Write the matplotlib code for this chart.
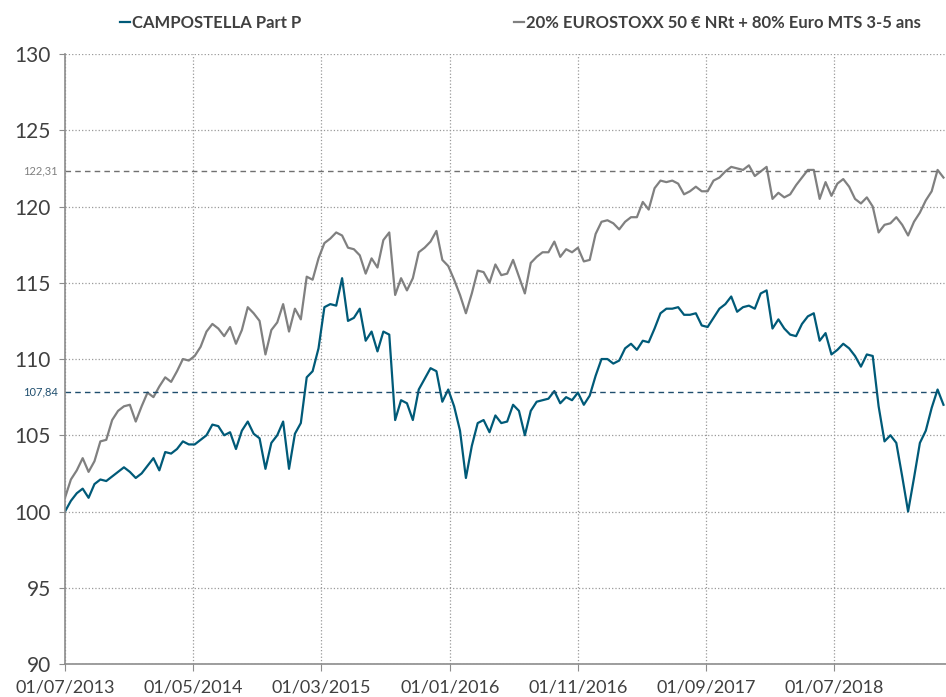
import numpy as np
import pandas as pd
import matplotlib
matplotlib.use('Agg')
import matplotlib.pyplot as plt

plt.rcParams['font.family'] = ['Lato', 'DejaVu Sans']

# valeurs, un point toutes les deux semaines depuis le 01/07/2013
campostella = [
    100.0, 100.7, 101.2, 101.5, 100.9, 101.8, 102.1, 102.0, 102.3, 102.6,
    102.9, 102.6, 102.2, 102.5, 103.0, 103.5, 102.7, 103.9, 103.8, 104.1,
    104.6, 104.4, 104.4, 104.7, 105.0, 105.7, 105.6, 105.0, 105.2, 104.1,
    105.3, 105.9, 105.1, 104.8, 102.8, 104.5, 105.0, 105.9, 102.8, 105.1,
    105.8, 108.8, 109.2, 110.7, 113.4, 113.6, 113.5, 115.3, 112.5, 112.7,
    113.3, 111.2, 111.8, 110.5, 111.8, 111.6, 106.0, 107.3, 107.1, 106.0,
    108.0, 108.7, 109.4, 109.2, 107.2, 108.0, 106.9, 105.3, 102.2, 104.3,
    105.8, 106.0, 105.2, 106.3, 105.8, 105.9, 107.0, 106.6, 105.0, 106.6,
    107.2, 107.3, 107.4, 107.9, 107.1, 107.5, 107.3, 107.8, 107.0, 107.6,
    108.9, 110.0, 110.0, 109.7, 109.9, 110.7, 111.0, 110.6, 111.2, 111.1,
    112.0, 113.0, 113.3, 113.3, 113.4, 112.9, 112.9, 113.0, 112.2, 112.1,
    112.7, 113.3, 113.6, 114.1, 113.1, 113.4, 113.5, 113.3, 114.3, 114.5,
    112.0, 112.6, 112.0, 111.6, 111.5, 112.3, 112.8, 113.0, 111.2, 111.7,
    110.3, 110.6, 111.0, 110.7, 110.2, 109.5, 110.3, 110.2, 106.9, 104.6,
    105.0, 104.5, 102.3, 100.0, 102.2, 104.5, 105.3, 106.8, 108.0, 107.0,
]

indice = [
    100.9, 102.1, 102.7, 103.5, 102.6, 103.3, 104.6, 104.7, 106.0, 106.6,
    106.9, 107.0, 105.9, 106.9, 107.8, 107.5, 108.2, 108.8, 108.5, 109.2,
    110.0, 109.9, 110.2, 110.8, 111.8, 112.3, 112.0, 111.5, 112.1, 111.0,
    111.9, 113.4, 113.0, 112.5, 110.3, 111.9, 112.4, 113.6, 111.8, 113.3,
    112.6, 115.4, 115.2, 116.6, 117.6, 117.9, 118.3, 118.1, 117.3, 117.2,
    116.8, 115.6, 116.6, 116.0, 117.8, 118.3, 114.2, 115.3, 114.5, 115.3,
    117.0, 117.3, 117.7, 118.4, 116.5, 116.1, 115.2, 114.2, 113.0, 114.3,
    115.8, 115.7, 115.0, 116.2, 115.5, 115.6, 116.5, 115.4, 114.3, 116.3,
    116.7, 117.0, 117.0, 117.7, 116.7, 117.2, 117.0, 117.3, 116.4, 116.5,
    118.2, 119.0, 119.1, 118.9, 118.5, 119.0, 119.3, 119.3, 120.3, 119.8,
    121.2, 121.7, 121.6, 121.7, 121.5, 120.8, 121.0, 121.3, 121.0, 121.0,
    121.7, 121.9, 122.3, 122.6, 122.5, 122.4, 122.7, 122.0, 122.3, 122.6,
    120.5, 120.9, 120.6, 120.8, 121.4, 121.9, 122.4, 122.4, 120.5, 121.6,
    120.7, 121.5, 121.8, 121.3, 120.5, 120.2, 120.6, 120.0, 118.3, 118.8,
    118.9, 119.3, 118.8, 118.1, 119.0, 119.6, 120.4, 121.0, 122.4, 121.9,
]

dates = pd.date_range('2013-07-01', periods=len(campostella), freq='14D')

ref_indice = 122.31
ref_campo = 107.84
tick_dates = ['2013-07-01', '2014-05-01', '2015-03-01', '2016-01-01',
              '2016-11-01', '2017-09-01', '2018-07-01']
tick_labels = ['01/07/2013', '01/05/2014', '01/03/2015', '01/01/2016',
               '01/11/2016', '01/09/2017', '01/07/2018']

bleu = '#005a78'
gris = '#808080'
texte = '#404040'

fig = plt.figure(figsize=(9.46, 6.97), dpi=100)
ax = fig.add_axes([0.0687, 0.0473, 0.9313, 0.8752])

ax.plot(dates, campostella, color=bleu, lw=1.6, label='CAMPOSTELLA Part P')
ax.plot(dates, indice, color=gris, lw=1.6,
        label='20% EUROSTOXX 50 € NRt + 80% Euro MTS 3-5 ans')

# lignes de reference (dernieres valeurs)
ax.hlines(ref_indice, dates[0], dates[-2], colors='#707070', linestyles=(0, (4, 3)), lw=1)
ax.hlines(ref_campo, dates[0], dates[-2], colors='#1f4e6e', linestyles=(0, (4, 3)), lw=1)
ax.text(-0.008, ref_indice, '122,31', transform=ax.get_yaxis_transform(),
        ha='right', va='center', fontsize=8, color=gris)
ax.text(-0.008, ref_campo, '107,84', transform=ax.get_yaxis_transform(),
        ha='right', va='center', fontsize=8, color='#1f4e6e')

ax.set_ylim(90, 130)
ax.set_yticks(np.arange(90, 131, 5))
ax.set_xlim(pd.Timestamp('2013-07-01'), pd.Timestamp('2019-03-24'))
ax.set_xticks(pd.to_datetime(tick_dates))
ax.set_xticklabels(tick_labels)

ax.grid(True, linestyle=':', color='#999999', lw=0.9)
ax.set_axisbelow(True)
for s in ['top', 'right']:
    ax.spines[s].set_visible(False)
for s in ['left', 'bottom']:
    ax.spines[s].set_color('#8c8c8c')
    ax.spines[s].set_linewidth(1.2)
ax.tick_params(axis='y', labelsize=15, colors='#8c8c8c', labelcolor=texte, length=4, pad=6)
ax.tick_params(axis='x', labelsize=13, colors='#8c8c8c', labelcolor=texte, length=5, pad=6)

leg = fig.legend(loc='upper left', bbox_to_anchor=(0.111, 1.0), ncol=2, frameon=False,
                 handlelength=0.6, handletextpad=0.1, columnspacing=12.8,
                 prop={'weight': 'bold', 'size': 12})
for t in leg.get_texts():
    t.set_color(texte)

fig.savefig('out.png', dpi=100)
